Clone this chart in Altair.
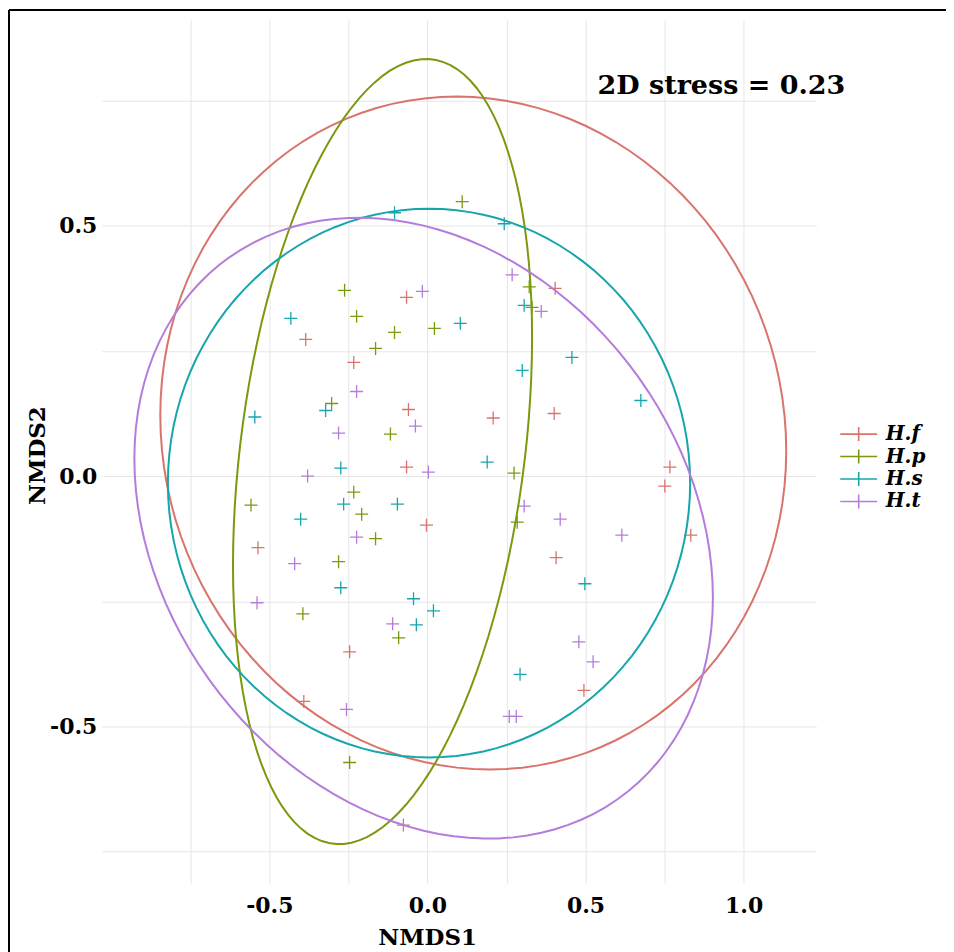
import numpy as np
import pandas as pd
import altair as alt

groups = ["H.f", "H.p", "H.s", "H.t"]
colors = ["#D8746C", "#7A9A0E", "#17A6AB", "#B47CDB"]

# NMDS site scores
hf_x = [-0.066, -0.385, -0.233, -0.060, -0.066, 0.404, 0.401, 0.208, 0.767, 0.751,
        -0.003, -0.536, -0.246, -0.391, -0.076, 0.833, 0.407, 0.495]
hf_y = [0.357, 0.273, 0.227, 0.133, 0.018, 0.375, 0.125, 0.116, 0.018, -0.020,
        -0.098, -0.143, -0.351, -0.450, -0.697, -0.118, -0.163, -0.428]

hp_x = [0.110, 0.322, 0.331, 0.274, -0.262, -0.224, -0.104, 0.022, -0.164, -0.303,
        -0.117, -0.233, -0.558, -0.208, -0.164, -0.281, -0.394, -0.091, -0.246, 0.284]
hp_y = [0.548, 0.378, 0.337, 0.006, 0.371, 0.319, 0.287, 0.295, 0.255, 0.145,
        0.084, -0.032, -0.058, -0.076, -0.125, -0.171, -0.275, -0.323, -0.572, -0.092]

hs_x = [-0.104, 0.243, 0.306, 0.457, 0.300, 0.675, 0.189, -0.432, 0.104, -0.322,
        -0.546, -0.274, -0.265, -0.095, -0.401, -0.274, -0.044, 0.019, -0.035, 0.498, 0.293]
hs_y = [0.526, 0.504, 0.341, 0.237, 0.211, 0.151, 0.028, 0.315, 0.305, 0.131,
        0.118, 0.016, -0.056, -0.056, -0.086, -0.223, -0.245, -0.269, -0.297, -0.215, -0.396]

ht_x = [0.268, 0.360, 0.306, -0.016, -0.224, -0.038, -0.281, 0.003, -0.379, -0.224,
        -0.420, -0.539, -0.110, -0.256, 0.420, 0.615, 0.479, 0.524, 0.259, 0.281]
ht_y = [0.402, 0.329, -0.060, 0.369, 0.169, 0.100, 0.086, 0.008, 0.000, -0.122,
        -0.175, -0.253, -0.295, -0.466, -0.086, -0.118, -0.331, -0.371, -0.480, -0.480]

# 95% ellipse parameters per group (centre, half-extents, correlation)
ell_cx = [0.145, -0.142, 0.005, -0.012]
ell_cy = [0.086, 0.049, -0.014, -0.104]
ell_sx = [0.990, 0.473, 0.826, 0.915]
ell_sy = [0.672, 0.784, 0.548, 0.620]
ell_r = [-0.053, 0.290, 0.000, -0.224]

stress_label = ["2D stress = 0.23"]
stress_x = [0.93]
stress_y = [0.78]

x_ticks = [-0.75, -0.5, -0.25, 0.0, 0.25, 0.5, 0.75, 1.0]
y_ticks = [-0.75, -0.5, -0.25, 0.0, 0.25, 0.5, 0.75]

# ---- build tables ----
rows = []
for g, xs, ys in zip(groups, [hf_x, hp_x, hs_x, ht_x], [hf_y, hp_y, hs_y, ht_y]):
    for a, b in zip(xs, ys):
        rows.append({"group": g, "NMDS1": a, "NMDS2": b})
pts = pd.DataFrame(rows)

t = np.linspace(0, 2 * np.pi, 121)
erows = []
for g, cx, cy, sx, sy, r in zip(groups, ell_cx, ell_cy, ell_sx, ell_sy, ell_r):
    ex = cx + sx * np.cos(t)
    ey = cy + sy * (r * np.cos(t) + np.sqrt(1 - r * r) * np.sin(t))
    for i, (a, b) in enumerate(zip(ex, ey)):
        erows.append({"group": g, "NMDS1": float(a), "NMDS2": float(b), "i": i})
ell = pd.DataFrame(erows)

ann = pd.DataFrame({"label": stress_label, "x": stress_x, "y": stress_y})

FONT = "DejaVu Serif"
lab_expr = ("abs(datum.value*2 - round(datum.value*2)) < 0.001 ? "
            "((datum.value < 0 ? '-' : '') + format(abs(datum.value), '.1f')) : ''")

xscale = alt.Scale(domain=[-1.03, 1.23], nice=False, zero=False)
yscale = alt.Scale(domain=[-0.813, 0.911], nice=False, zero=False)

xaxis = alt.Axis(values=x_ticks, labelExpr=lab_expr, title="NMDS1",
                 labelPadding=12, titleX=326, titleY=61, titleBaseline="alphabetic",
                 titleAlign="center")
yaxis = alt.Axis(values=y_ticks, labelExpr=lab_expr, title="NMDS2",
                 labelPadding=5, titleX=-52, titleY=436, titleAngle=270,
                 titleBaseline="bottom", titleAlign="center")

color = alt.Color("group:N", scale=alt.Scale(domain=groups, range=colors),
                  legend=alt.Legend(title=None, orient="none", legendX=748.5, legendY=405,
                                    symbolType="M-2.64,0L2.64,0M0,-1L0,1", symbolSize=196,
                                    symbolStrokeWidth=1.6, labelFont=FONT,
                                    labelFontStyle="italic", labelFontWeight="bold",
                                    labelFontSize=20, labelOffset=17, rowPadding=0.5,
                                    labelColor="black"))

points = alt.Chart(pts).mark_point(
    shape="M-1,0L1,0M0,-1L0,1", filled=False, size=169, strokeWidth=1.3, opacity=1
).encode(
    x=alt.X("NMDS1:Q", scale=xscale, axis=xaxis),
    y=alt.Y("NMDS2:Q", scale=yscale, axis=yaxis),
    color=color,
)

lines = alt.Chart(ell).mark_line(strokeWidth=2).encode(
    x=alt.X("NMDS1:Q", scale=xscale),
    y=alt.Y("NMDS2:Q", scale=yscale),
    color=color,
    order="i:Q",
)

text = alt.Chart(ann).mark_text(font=FONT, fontWeight="bold", fontSize=27,
                                align="center", baseline="middle", color="black").encode(
    x=alt.X("x:Q", scale=xscale),
    y=alt.Y("y:Q", scale=yscale),
    text="label:N",
)

frame = pd.DataFrame({"a": [0]})
border_left = alt.Chart(frame).mark_rule(color="black", strokeWidth=2).encode(
    x=alt.value(-93), y=alt.value(-10), y2=alt.value(960))
border_top = alt.Chart(frame).mark_rule(color="black", strokeWidth=2).encode(
    x=alt.value(-93), x2=alt.value(900), y=alt.value(-10))

chart = alt.layer(points, lines, text, border_left, border_top).properties(
    width=716, height=865,
    autosize=alt.AutoSizeParams(type="none"),
    padding={"left": 94, "top": 11, "right": 130, "bottom": 68},
).configure_view(strokeWidth=0).configure_axis(
    domain=False, ticks=False, tickSize=0, grid=True, gridColor="#E6E6E6", gridWidth=1,
    labelFont=FONT, labelFontWeight="bold", labelFontSize=22, labelColor="black",
    titleFont=FONT, titleFontWeight="bold", titleFontSize=23, titleColor="black",
)

chart.save("out.html", embed_options={"renderer": "svg", "actions": False})
